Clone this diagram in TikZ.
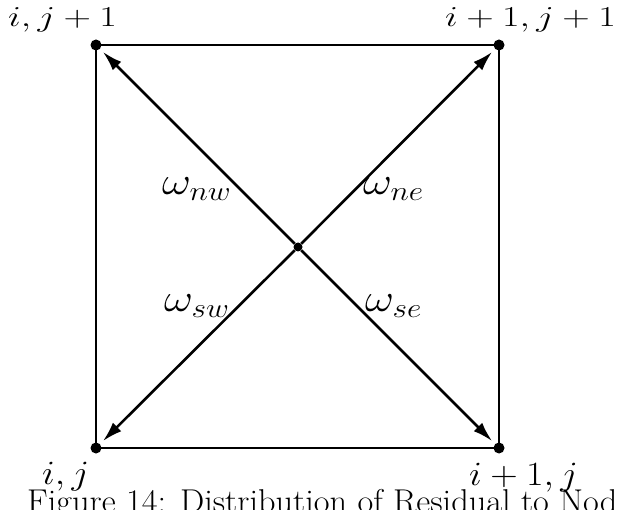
\RequirePackage{fix-cm}
\documentclass[tikz,border=0pt]{standalone}
\usetikzlibrary{arrows.meta}
\tikzset{
  dotnode/.style={circle,fill=black,inner sep=0pt,minimum size=11pt},
  cdot/.style={circle,fill=black,inner sep=0pt,minimum size=9pt},
  sqedge/.style={line width=2.6pt},
  arr/.style={line width=2.6pt,-{Latex[length=20pt,width=12pt]},shorten >=4pt},
  lab/.style={inner sep=0pt,font=\fontsize{34}{38}\selectfont},
  wlab/.style={inner sep=0pt,font=\fontsize{39}{44}\selectfont},
  captext/.style={inner sep=0pt,font=\fontsize{33}{38}\selectfont}
}
\newcommand{\tl}[1]{\scalebox{1.12}[0.85]{#1}}
\newcommand{\bl}[1]{\scalebox{1.12}[1]{#1}}
\newcommand{\wl}[1]{\scalebox{1.15}[1]{#1}}
\begin{document}
\begin{tikzpicture}[x=1pt,y=-1pt]
\useasboundingbox (0,0) rectangle (618,510);
\clip (0,0) rectangle (618,510);
\node[dotnode] (D) at (96,45) {};
\node[dotnode] (C) at (499,45) {};
\node[dotnode] (A) at (96,448) {};
\node[dotnode] (B) at (499,448) {};
\node[cdot] (O) at (298,247) {};
\draw[sqedge] (A.center) -- (B.center) -- (C.center) -- (D.center) -- cycle;
\draw[arr] (O) -- (A);
\draw[arr] (O) -- (B);
\draw[arr] (O) -- (C);
\draw[arr] (O) -- (D);
\node[lab,anchor=base west] (lD) at (8,27) {\tl{$i,j+1$}};
\node[lab,anchor=base east] (lC) at (616,27) {\tl{$i+1,j+1$}};
\node[lab,anchor=base west] (lA) at (42,484) {\bl{$i,j$}};
\node[lab,anchor=base west] (lB) at (469,485) {\bl{$i+1,j$}};
\node[wlab,anchor=base west] (wnw) at (162,195) {\wl{$\omega_{nw}$}};
\node[wlab,anchor=base west] (wne) at (363,195) {\wl{$\omega_{ne}$}};
\node[wlab,anchor=base west] (wsw) at (164,312) {\wl{$\omega_{sw}$}};
\node[wlab,anchor=base west] (wse) at (365,312) {\wl{$\omega_{se}$}};
\node[captext,anchor=base west] (capt) at (27,512) {\scalebox{1.04}[1]{Figure 14: Distribution of Residual to Node}};
\end{tikzpicture}
\end{document}
